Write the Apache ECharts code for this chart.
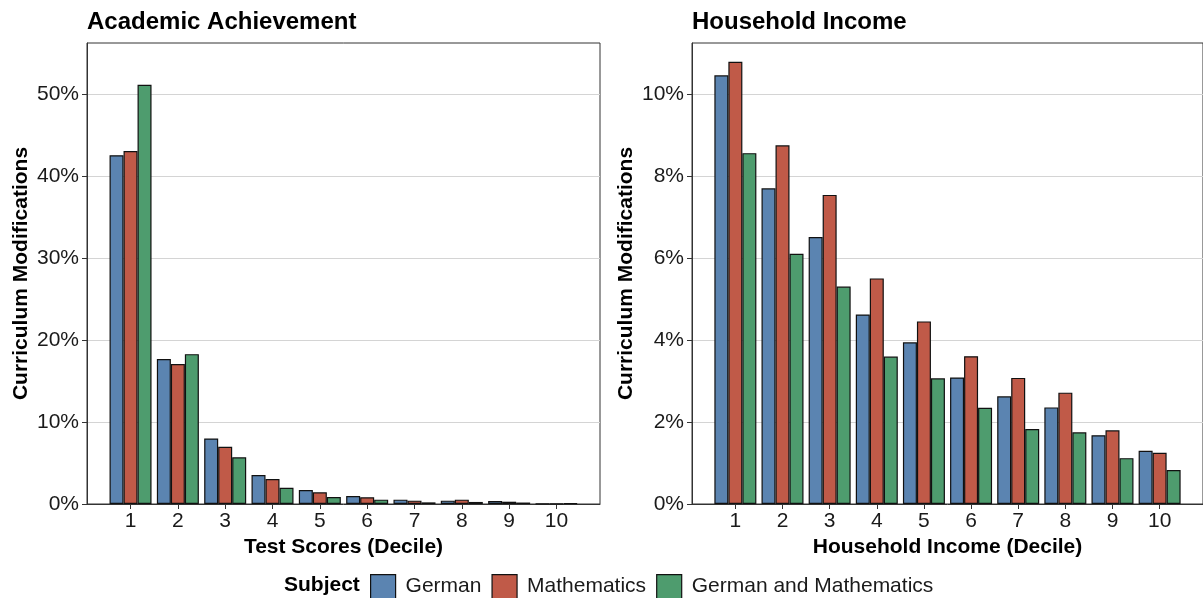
<!DOCTYPE html>
<html>
<head>
<meta charset="utf-8">
<script src="https://cdn.jsdelivr.net/npm/echarts@6/dist/echarts.min.js"></script>
<style>
  html, body { margin: 0; padding: 0; background: #fff; }
  #chart { width: 1203px; height: 598px; }
</style>
</head>
<body>
<div id="chart"></div>
<script>
const deciles = [1, 2, 3, 4, 5, 6, 7, 8, 9, 10];
const subjects = ['German', 'Mathematics', 'German and Mathematics'];
const colorPallet = ['#5b84b1', '#c05a48', '#4e9c6e'];

// Academic Achievement (% of curriculum modifications)
const achGerman = [42.6, 17.7, 8.0, 3.55, 1.7, 0.98, 0.53, 0.41, 0.37, 0.02];
const achMath = [43.1, 17.1, 7.0, 3.05, 1.43, 0.82, 0.41, 0.53, 0.28, 0.03];
const achBoth = [51.2, 18.3, 5.7, 1.98, 0.84, 0.53, 0.2, 0.25, 0.18, 0.07];

// Household Income
const incGerman = [10.47, 7.71, 6.52, 4.63, 3.95, 3.09, 2.63, 2.36, 1.68, 1.30];
const incMath = [10.8, 8.76, 7.55, 5.51, 4.46, 3.61, 3.08, 2.72, 1.80, 1.25];
const incBoth = [8.57, 6.11, 5.31, 3.6, 3.07, 2.35, 1.83, 1.75, 1.12, 0.83];

const achTicks = [0, 10, 20, 30, 40, 50];
const incTicks = [0, 2, 4, 6, 8, 10];

const font = 'Liberation Sans';
const dark = '#333333';

function pairs(vals) {
    return vals.map((v, i) => [deciles[i], v]);
}

function xAxis(idx, name) {
    return {
        type: 'value', gridIndex: idx, min: 0.08, max: 10.92,
        name: name, nameLocation: 'middle', nameGap: 32,
        nameTextStyle: { fontFamily: font, fontSize: 21, fontWeight: 'bold', color: '#000' },
        axisLine: { show: true, lineStyle: { color: dark, width: 1 } },
        axisTick: { show: true, length: 5, lineStyle: { color: dark }, customValues: deciles },
        axisLabel: { fontFamily: font, fontSize: 21, color: '#1a1a1a', margin: 7, customValues: deciles },
        splitLine: { show: false }
    };
}

function yAxis(idx, max, ticks) {
    return {
        type: 'value', gridIndex: idx, min: 0, max: max,
        name: 'Curriculum Modifications', nameLocation: 'middle', nameGap: 55,
        nameTextStyle: { fontFamily: font, fontSize: 21, fontWeight: 'bold', color: '#000' },
        axisLine: { show: true, lineStyle: { color: dark, width: 1 } },
        axisTick: { show: true, length: 5, lineStyle: { color: dark }, customValues: ticks },
        axisLabel: { fontFamily: font, fontSize: 21, color: '#1a1a1a', margin: 8, formatter: '{value}%', customValues: ticks },
        splitLine: { show: true, lineStyle: { color: '#d4d4d4', width: 1.2 } }
    };
}

function bars(idx, name, vals, color) {
    return {
        type: 'bar', name: name, xAxisIndex: idx, yAxisIndex: idx,
        data: pairs(vals), barWidth: 14, barGap: '0%',
        itemStyle: { color: color, borderColor: '#111', borderWidth: 1.2 },
        emphasis: { disabled: true }
    };
}

echarts.init(document.querySelector('#chart')).setOption({
    animation: false,
    color: colorPallet,
    title: [
        { text: 'Academic Achievement', left: 87, top: 10, padding: 0, textStyle: { fontFamily: font, fontSize: 24, fontWeight: 'bold', color: '#000' } },
        { text: 'Household Income', left: 692, top: 10, padding: 0, textStyle: { fontFamily: font, fontSize: 24, fontWeight: 'bold', color: '#000' } },
        { text: 'Subject', left: 284, top: 575, padding: 0, textStyle: { fontFamily: font, fontSize: 21, fontWeight: 'bold', color: '#000' } }
    ],
    legend: {
        data: subjects, left: 370, top: 574, padding: 0, icon: 'rect',
        itemWidth: 25, itemHeight: 24, itemGap: 10,
        itemStyle: { borderColor: '#111', borderWidth: 1.2 },
        textStyle: { fontFamily: font, fontSize: 21, color: '#1a1a1a', padding: [0, 0, 0, 5] }
    },
    grid: [
        { left: 87, top: 43, width: 513, bottom: 94, show: true, borderColor: dark, borderWidth: 1 },
        { left: 692, top: 43, right: -2, bottom: 94, show: true, borderColor: dark, borderWidth: 1 }
    ],
    xAxis: [xAxis(0, 'Test Scores (Decile)'), xAxis(1, 'Household Income (Decile)')],
    yAxis: [yAxis(0, 56.3, achTicks), yAxis(1, 11.26, incTicks)],
    series: [
        bars(0, subjects[0], achGerman, colorPallet[0]),
        bars(0, subjects[1], achMath, colorPallet[1]),
        bars(0, subjects[2], achBoth, colorPallet[2]),
        bars(1, subjects[0], incGerman, colorPallet[0]),
        bars(1, subjects[1], incMath, colorPallet[1]),
        bars(1, subjects[2], incBoth, colorPallet[2])
    ]
});
</script>
</body>
</html>
